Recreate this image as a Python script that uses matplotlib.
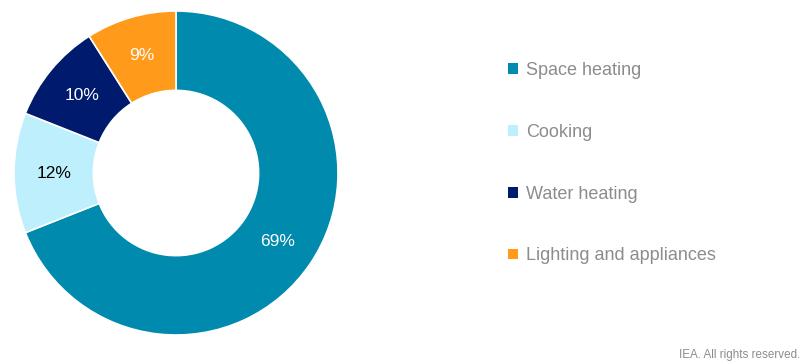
import numpy as np
import matplotlib.pyplot as plt
from matplotlib.patches import Patch

plt.rcParams['font.family'] = ['Liberation Sans', 'DejaVu Sans']

labels = ["Space heating", "Cooking", "Water heating", "Lighting and appliances"]
shares = [69, 12, 10, 9]
colors = ["#008AAD", "#BDEFFD", "#001A6E", "#FF9A1A"]
label_colors = ["white", "black", "white", "white"]

W, H = 803, 362
fig = plt.figure(figsize=(W / 100, H / 100), dpi=100)

# Donut: centre ~(176, 173) px, outer radius ~162 px
ax = fig.add_axes([14 / W, 27 / H, 324 / W, 324 / H])
wedges, _ = ax.pie(shares, colors=colors, startangle=90, counterclock=False,
                   radius=1.0,
                   wedgeprops=dict(width=0.49, edgecolor="white", linewidth=1.2))
ax.set_xlim(-1, 1)
ax.set_ylim(-1, 1)
ax.set_aspect("equal")
ax.axis("off")

# Percentage labels at mid-ring
start = 90.0
for val, tc in zip(shares, label_colors):
    span = val / sum(shares) * 360
    mid = np.deg2rad(start - span / 2)
    r = 0.755
    ax.text(r * np.cos(mid), r * np.sin(mid), f"{val}%", color=tc,
            ha="center", va="center", fontsize=12.5)
    start -= span

handles = [Patch(facecolor=c, edgecolor="none") for c in colors]
leg = fig.legend(handles, labels, loc="upper left",
                 bbox_to_anchor=(508 / W, 1 - 62 / H), frameon=False,
                 fontsize=13, handlelength=0.55, handleheight=0.55,
                 handletextpad=0.45, labelspacing=2.48, borderpad=0,
                 borderaxespad=0)
for t in leg.get_texts():
    t.set_color("#8C8C8C")

fig.text(800 / W, 1 - 355 / H, "IEA. All rights reserved.", ha="right",
         va="center", fontsize=8.4, color="#8C8C8C")

fig.savefig("out.png", dpi=100)
